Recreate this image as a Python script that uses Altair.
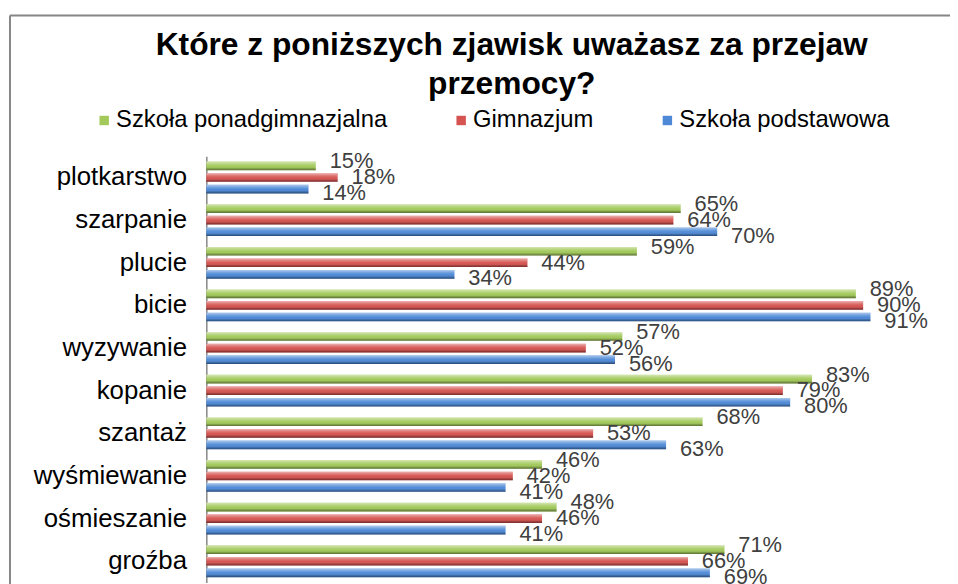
import altair as alt
import pandas as pd

categories = ["plotkarstwo", "szarpanie", "plucie", "bicie", "wyzywanie",
              "kopanie", "szantaż", "wyśmiewanie", "ośmieszanie", "groźba"]
series_names = ["Szkoła ponadgimnazjalna", "Gimnazjum", "Szkoła podstawowa"]
series_colors = ["#A2C95A", "#D55350", "#4D89D6"]
values_ponadgimnazjalna = [15, 65, 59, 89, 57, 83, 68, 46, 48, 71]
values_gimnazjum = [18, 64, 44, 90, 52, 79, 53, 42, 46, 66]
values_podstawowa = [14, 70, 34, 91, 56, 80, 63, 41, 41, 69]
title_lines = ["Które z poniższych zjawisk uważasz za przejaw", "przemocy?"]

rows = []
for i, c in enumerate(categories):
    for s, vals in zip(series_names,
                       [values_ponadgimnazjalna, values_gimnazjum, values_podstawowa]):
        rows.append({"kategoria": c, "szkola": s, "wartosc": vals[i],
                     "etykieta": f"{vals[i]}%"})
df = pd.DataFrame(rows)

FONT = "Liberation Sans"
W, H = 736, 430

y_enc = alt.Y("kategoria:N", sort=categories,
              scale=alt.Scale(paddingInner=0.2, paddingOuter=0.1),
              axis=alt.Axis(title=None, ticks=False, labelPadding=20,
                            labelFontSize=26, labelFont=FONT, labelColor="#000000",
                            domainColor="#868686", domainWidth=1.5))
x_enc = alt.X("wartosc:Q", scale=alt.Scale(domain=[0, 100]), axis=None)
yoff_bar = alt.YOffset("szkola:N", sort=series_names,
                       scale=alt.Scale(domain=series_names, paddingInner=0.25, paddingOuter=0.1))
color_enc = alt.Color("szkola:N", sort=series_names,
                      scale=alt.Scale(domain=series_names, range=series_colors),
                      legend=alt.Legend(title=None, orient="none", legendX=-115, legendY=-48,
                                        direction="horizontal", labelFontSize=24,
                                        labelFont=FONT, labelColor="#000000",
                                        labelLimit=0,
                                        symbolType="square", symbolSize=90,
                                        symbolStrokeWidth=0, labelOffset=0,
                                        columnPadding=62))

shine = alt.Gradient(
    gradient="linear", x1=0, y1=0, x2=0, y2=1,
    stops=[alt.GradientStop(offset=0, color="rgba(255,255,255,0.55)"),
           alt.GradientStop(offset=0.3, color="rgba(255,255,255,0.2)"),
           alt.GradientStop(offset=0.55, color="rgba(255,255,255,0)"),
           alt.GradientStop(offset=0.8, color="rgba(0,0,0,0.2)"),
           alt.GradientStop(offset=1, color="rgba(0,0,0,0.45)")])

base = alt.Chart(df)
bars = base.mark_bar().encode(y=y_enc, x=x_enc, yOffset=yoff_bar, color=color_enc)
gloss = base.mark_bar(fill=shine).encode(y=y_enc, x=x_enc, yOffset=yoff_bar)
labels = base.mark_text(align="left", baseline="middle", dx=14, fontSize=22,
                        font=FONT, color="#404040").encode(
    y=y_enc, x=x_enc,
    yOffset=alt.YOffset("szkola:N", sort=series_names,
                        scale=alt.Scale(type="point", domain=series_names,
                                        range=[1, 33], padding=0)),
    text="etykieta:N")

frame_data = alt.Data(values=[{"f": 1}])
frame_left = alt.Chart(frame_data).mark_rule(color="#868686", strokeWidth=2).encode(
    x=alt.value(-198), y=alt.value(-142), y2=alt.value(H + 20))
frame_top = alt.Chart(frame_data).mark_rule(color="#868686", strokeWidth=2).encode(
    x=alt.value(-198), x2=alt.value(W + 20), y=alt.value(-142))

chart = alt.layer(frame_left, frame_top, bars, gloss, labels).resolve_scale(
    yOffset="independent"
).properties(
    width=W, height=H,
    background="white",
    padding={"left": 200, "top": 147, "right": 14, "bottom": 0},
    autosize=alt.AutoSizeParams(type="none"),
    title=alt.TitleParams(text=title_lines, fontSize=32, font=FONT, fontWeight="bold",
                          color="#000000", anchor="middle", frame="group", dx=-60,
                          lineHeight=39, offset=-87),
).configure_view(stroke=None, strokeWidth=0)

chart.save("out.html", embed_options={"renderer": "svg", "actions": False})
